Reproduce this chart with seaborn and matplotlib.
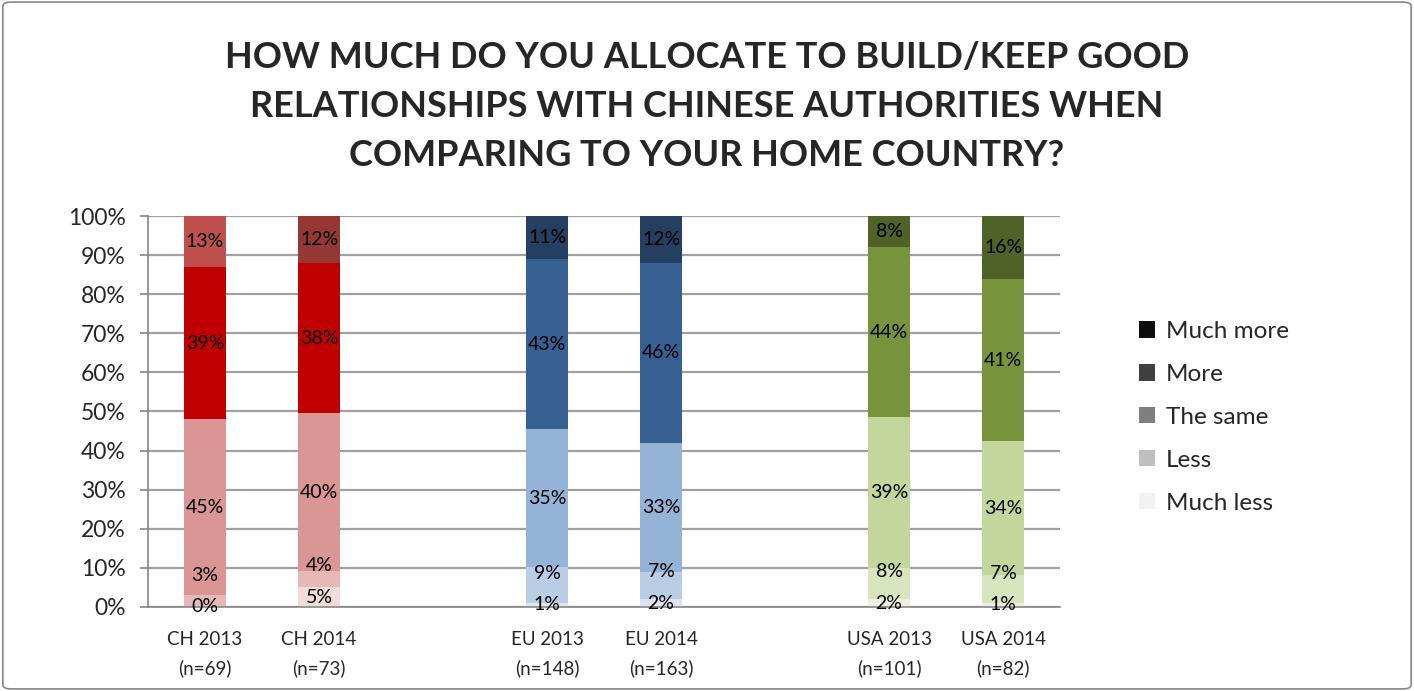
import matplotlib
matplotlib.use("Agg")
import matplotlib.pyplot as plt
from matplotlib.patches import Patch, FancyBboxPatch
from matplotlib.ticker import PercentFormatter
import numpy as np
import pandas as pd
import seaborn as sns

# ---------------- data ----------------
categories = ["CH 2013", "CH 2014", "EU 2013", "EU 2014", "USA 2013", "USA 2014"]
sample_sizes = [69, 73, 148, 163, 101, 82]
much_less = [0, 5, 1, 2, 2, 1]
less = [3, 4, 9, 7, 8, 7]
the_same = [45, 40, 35, 33, 39, 34]
more = [39, 38, 43, 46, 44, 41]
much_more = [13, 12, 11, 12, 8, 16]
layer_names = ["Much less", "Less", "The same", "More", "Much more"]
title = ("HOW MUCH DO YOU ALLOCATE TO BUILD/KEEP GOOD\n"
         "RELATIONSHIPS WITH CHINESE AUTHORITIES WHEN\n"
         "COMPARING TO YOUR HOME COUNTRY?")

# ---------------- style ----------------
bar_colors = {
    "CH 2013": ["#F2DCDB", "#E6B9B8", "#D99694", "#C00000", "#C0504D"],
    "CH 2014": ["#F2DCDB", "#E6B9B8", "#D99694", "#C00000", "#953735"],
    "EU 2013": ["#DCE6F2", "#B9CDE5", "#95B3D7", "#376092", "#243F60"],
    "EU 2014": ["#DCE6F2", "#B9CDE5", "#95B3D7", "#376092", "#243F60"],
    "USA 2013": ["#EBF1DE", "#D7E4BD", "#C3D69B", "#77933C", "#4F6228"],
    "USA 2014": ["#EBF1DE", "#D7E4BD", "#C3D69B", "#77933C", "#4F6228"],
}
legend_colors = ["#F2F2F2", "#BFBFBF", "#7F7F7F", "#404040", "#0D0D0D"]
slot_order = ["CH 2013", "CH 2014", " ", "EU 2013", "EU 2014", "  ", "USA 2013", "USA 2014"]

sns.set_theme(style="white")
plt.rcParams["font.family"] = ["Lato", "DejaVu Sans"]

layers = [much_less, less, the_same, more, much_more]
vals = np.array(layers, dtype=float)          # shape (5, 6)
totals = vals.sum(axis=0)
shares = vals / totals                        # normalised heights
cum = np.cumsum(shares, axis=0)

fig = plt.figure(figsize=(14.14, 6.91), dpi=100)
ax = fig.add_axes([0.1047, 0.1216, 0.645, 0.5658])

# draw stacked bars: top layers first, then overdraw lower cumulative sums
for li in range(len(layer_names) - 1, -1, -1):
    df = pd.DataFrame({"cat": categories, "top": cum[li]})
    pal = {c: bar_colors[c][li] for c in categories}
    sns.barplot(data=df, x="cat", y="top", hue="cat", order=slot_order,
                hue_order=categories, palette=pal, width=0.37, saturation=1,
                legend=False, ax=ax, zorder=2, linewidth=0)

# data labels
gap = 0.08
for ci, cat in enumerate(categories):
    xpos = slot_order.index(cat)
    prev = -1.0
    for li in range(len(layer_names)):
        lo = cum[li - 1, ci] if li > 0 else 0.0
        center = (lo + cum[li, ci]) / 2
        y = max(center, prev + gap)
        prev = y
        ax.text(xpos, y, f"{int(vals[li, ci])}%", ha="center", va="center",
                fontsize=14, color="black", zorder=5)

# axes styling
ax.set_ylim(0, 1)
ax.set_xlim(-0.5, 7.5)
ax.set_yticks(np.arange(0, 1.01, 0.1))
ax.yaxis.set_major_formatter(PercentFormatter(1.0, decimals=0))
ax.grid(axis="y", color="#A0A0A0", linewidth=1.6, zorder=0)
ax.set_axisbelow(True)
ax.set_xlabel("")
ax.set_ylabel("")

xt = [slot_order.index(c) for c in categories]
ax.set_xticks(xt)
ax.set_xticklabels([f"{c}\n(n={n})" for c, n in zip(categories, sample_sizes)],
                   fontsize=13.5, linespacing=1.8)
ax.set_xticks(np.arange(-0.5, 8.0, 1.0), minor=True)
ax.tick_params(axis="x", which="major", length=0, pad=17)
ax.tick_params(axis="x", which="minor", length=7, width=1.2, color="#868686", direction="out")
ax.tick_params(axis="y", length=6, width=1.2, color="#868686", direction="out",
               labelsize=16.5, pad=10, left=True)
for s in ["top", "right"]:
    ax.spines[s].set_visible(False)
for s in ["left", "bottom"]:
    ax.spines[s].set_color("#868686")
    ax.spines[s].set_linewidth(1.2)

# legend
handles = [Patch(facecolor=legend_colors[i], edgecolor="none", label=layer_names[i])
           for i in range(len(layer_names) - 1, -1, -1)]
fig.legend(handles=handles, loc="upper left", bbox_to_anchor=(0.79, 0.567),
           frameon=False, fontsize=17.5, handlelength=0.65, handleheight=0.65,
           handletextpad=0.45, labelspacing=0.9)

# title
fig.text(0.5, 0.846, title, ha="center", va="center", fontsize=26,
         fontweight="bold", linespacing=1.58)

# chart border
border = FancyBboxPatch((0.002, 0.003), 0.996, 0.994, boxstyle="round,pad=0,rounding_size=0.006",
                        transform=fig.transFigure, facecolor="none", edgecolor="#868686",
                        linewidth=1.2)
fig.patches.append(border)

fig.savefig("out.png", dpi=100)
